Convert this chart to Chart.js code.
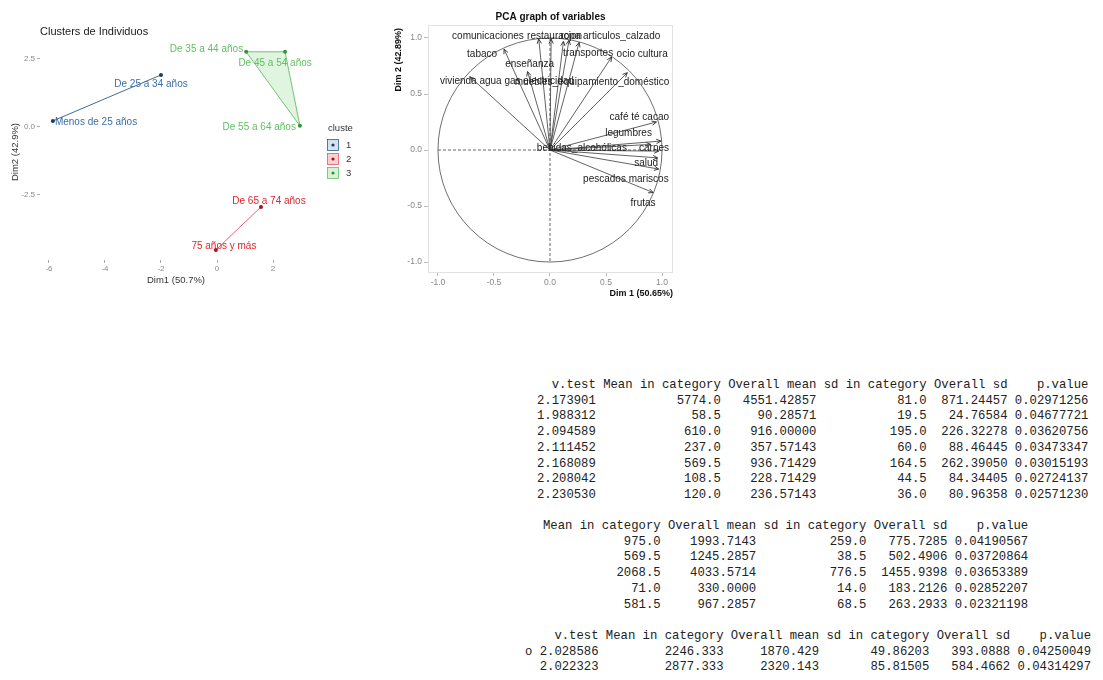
<!DOCTYPE html>
<html><head><meta charset="utf-8">
<script src="https://cdn.jsdelivr.net/npm/chart.js@4.4.1/dist/chart.umd.min.js"></script>
<style>
html,body{margin:0;padding:0;background:#fff;width:1103px;height:680px;overflow:hidden;}
#c1{position:absolute;left:0;top:0;}
#c2{position:absolute;left:380px;top:0;}
pre{position:absolute;margin:0;font-family:"Liberation Mono","DejaVu Sans Mono",monospace;font-size:12.25px;line-height:15.7px;color:#222;}
</style></head><body>
<canvas id="c1" width="370" height="300"></canvas>
<canvas id="c2" width="330" height="300"></canvas>
<pre id="t1" style="left:537px;top:378px"></pre>
<pre id="t2" style="left:543px;top:519px"></pre>
<pre id="t3" style="left:525px;top:629px"></pre>
<script>
// ---------- DATA: clusters of individuals ----------
const individuals = ["Menos de 25 años","De 25 a 34 años","De 35 a 44 años","De 45 a 54 años","De 55 a 64 años","De 65 a 74 años","75 años y más"];
const indDim1 = [-5.86, -2.00, 1.04, 2.43, 2.96, 1.57, -0.04];
const indDim2 = [0.22, 1.91, 2.76, 2.76, 0.04, -2.94, -4.52];
const indCluster = [1, 1, 3, 3, 3, 2, 2];
const clusterIds = [1, 2, 3];
const clusterXTicks = [-6, -4, -2, 0, 2];
const clusterYTicks = [-2.5, 0, 2.5];

// ---------- DATA: PCA variables ----------
const variables = ["comunicaciones","restauracion","ropa","articulos_calzado","transportes","ocio cultura","muebles_equipamiento_doméstico","tabaco","enseñanza","vivienda agua gas electricidad","café té cacao","legumbres","bebidas_alcohólicas","carnes","salud","pescados mariscos","frutas"];
const varDim1 = [-0.10, 0.01, 0.12, 0.17, 0.26, 0.55, 0.69, -0.41, -0.20, -0.71, 0.95, 0.99, 0.90, 0.97, 0.96, 0.97, 0.92];
const varDim2 = [0.99, 0.99, 0.97, 0.98, 0.96, 0.83, 0.69, 0.90, 0.70, 0.65, 0.25, 0.08, 0.05, -0.01, -0.07, -0.17, -0.38];
const pcaTicks = [-1, -0.5, 0, 0.5, 1];

// ---------- DATA: tables ----------
const t1VTest = ["2.173901","1.988312","2.094589","2.111452","2.168089","2.208042","2.230530"];
const t1Mean = ["5774.0","58.5","610.0","237.0","569.5","108.5","120.0"];
const t1Overall = ["4551.42857","90.28571","916.00000","357.57143","936.71429","228.71429","236.57143"];
const t1Sd = ["81.0","19.5","195.0","60.0","164.5","44.5","36.0"];
const t1OverallSd = ["871.24457","24.76584","226.32278","88.46445","262.39050","84.34405","80.96358"];
const t1P = ["0.02971256","0.04677721","0.03620756","0.03473347","0.03015193","0.02724137","0.02571230"];

const t2Mean = ["975.0","569.5","2068.5","71.0","581.5"];
const t2Overall = ["1993.7143","1245.2857","4033.5714","330.0000","967.2857"];
const t2Sd = ["259.0","38.5","776.5","14.0","68.5"];
const t2OverallSd = ["775.7285","502.4906","1455.9398","183.2126","263.2933"];
const t2P = ["0.04190567","0.03720864","0.03653389","0.02852207","0.02321198"];

const t3Row = ["o"," "];
const t3VTest = ["2.028586","2.022323"];
const t3Mean = ["2246.333","2877.333"];
const t3Overall = ["1870.429","2320.143"];
const t3Sd = ["49.86203","85.81505"];
const t3OverallSd = ["393.0888","584.4662"];
const t3P = ["0.04250049","0.04314297"];

const colHeads = ["v.test","Mean in category","Overall mean","sd in category","Overall sd","p.value"];

// ---------- STYLES ----------
const FONT = '"Liberation Sans", Arial, sans-serif';
const clusterStyle = {
  1: {text:'#3b6ea8', line:'#2f5a8a', point:'#1d3a66', fill:'rgba(120,160,220,0.25)', key:'rgba(120,160,220,0.3)'},
  2: {text:'#e2252d', line:'#e05668', point:'#a8101f', fill:'rgba(240,120,120,0.25)', key:'rgba(240,120,120,0.35)'},
  3: {text:'#62bf62', line:'#66bb66', point:'#3a8f3a', fill:'rgba(140,220,140,0.28)', key:'rgba(140,220,140,0.35)'}
};
// label offsets in px relative to point: [dx, dy, align]
const indLabelLayout = [[2,1,'left'],[-10,9,'center'],[-3,-3,'right'],[-10,11,'center'],[-4,1,'right'],[8,-6,'center'],[8,-4,'center']];
const varLabelLayout = [[-15,-3,'right'],[-24,-3,'left'],[-3,-5,'left'],[14,-4,'left'],[-16,10.5,'left'],[5,-3,'left'],[42,10,'right'],[-7,5,'right'],[2,-7,'center'],[-30.5,4,'left'],[12.6,-5,'right'],[-9,-8,'right'],[-114,3.6,'left'],[10.4,-3,'right'],[0.5,5,'right'],[10,10,'right'],[-10,11,'center']];

// ---------- tables ----------
const pad = (s, w) => ' '.repeat(Math.max(0, w - String(s).length)) + s;
const W = [8,16,12,14,10,10];
(function(){
  let L = [colHeads.map((h,i)=>pad(h,W[i])).join(' ')];
  t1VTest.forEach((v,i)=>L.push([v,t1Mean[i],t1Overall[i],t1Sd[i],t1OverallSd[i],t1P[i]].map((s,j)=>pad(s,W[j])).join(' ')));
  document.getElementById('t1').textContent = L.join('\n');
  L = [colHeads.slice(1).map((h,i)=>pad(h,W[i+1])).join(' ')];
  t2Mean.forEach((v,i)=>L.push([v,t2Overall[i],t2Sd[i],t2OverallSd[i],t2P[i]].map((s,j)=>pad(s,W[j+1])).join(' ')));
  document.getElementById('t2').textContent = L.join('\n');
  L = [' ' + ' ' + colHeads.map((h,i)=>pad(h,W[i])).join(' ')];
  t3VTest.forEach((v,i)=>L.push(t3Row[i] + ' ' + [v,t3Mean[i],t3Overall[i],t3Sd[i],t3OverallSd[i],t3P[i]].map((s,j)=>pad(s,W[j])).join(' ')));
  document.getElementById('t3').textContent = L.join('\n');
})();

// ---------- convex hull ----------
function hull(pts){
  const p = pts.slice().sort((a,b)=>a.x-b.x||a.y-b.y);
  if (p.length < 3) return p;
  const cr=(o,a,b)=>(a.x-o.x)*(b.y-o.y)-(a.y-o.y)*(b.x-o.x);
  const lo=[], up=[];
  for (const q of p){ while(lo.length>=2 && cr(lo[lo.length-2],lo[lo.length-1],q)<=0) lo.pop(); lo.push(q); }
  for (const q of p.slice().reverse()){ while(up.length>=2 && cr(up[up.length-2],up[up.length-1],q)<=0) up.pop(); up.push(q); }
  up.pop(); lo.pop(); return lo.concat(up);
}
const clusterPts = clusterIds.map(c => individuals.map((n,i)=>({x:indDim1[i], y:indDim2[i], c:indCluster[i]})).filter(p=>p.c===c));
const clusterHulls = clusterPts.map(hull);

// ---------- chart 1: clusters ----------
const ds1 = [];
clusterIds.forEach((c,ci)=>{
  ds1.push({type:'scatter', data:clusterPts[ci].map(p=>({x:p.x,y:p.y})), pointRadius:2, pointBackgroundColor:clusterStyle[c].point, pointBorderWidth:0, showLine:false, clip:false, order:1});
  const h = clusterHulls[ci];
  const closed = h.length>2 ? h.concat([h[0]]) : h;
  ds1.push({type:'scatter', data:closed.map(p=>({x:p.x,y:p.y})), showLine:true, pointRadius:0, borderColor:clusterStyle[c].line, borderWidth:0.9, tension:0, clip:false, order:2});
});

const clusterDeco = {
  id:'clusterDeco',
  beforeDatasetsDraw(chart){
    const {ctx, scales:{x,y}} = chart;
    clusterIds.forEach((c,ci)=>{
      const h = clusterHulls[ci];
      if (h.length < 3) return;
      ctx.save(); ctx.beginPath();
      h.forEach((p,i)=>{ const px=x.getPixelForValue(p.x), py=y.getPixelForValue(p.y); i?ctx.lineTo(px,py):ctx.moveTo(px,py); });
      ctx.closePath(); ctx.fillStyle = clusterStyle[c].fill; ctx.fill(); ctx.restore();
    });
  },
  afterDatasetsDraw(chart){
    const {ctx, scales:{x,y}} = chart;
    ctx.save();
    ctx.font = '10px ' + FONT; ctx.textBaseline = 'middle';
    individuals.forEach((n,i)=>{
      const [dx,dy,al] = indLabelLayout[i];
      ctx.fillStyle = clusterStyle[indCluster[i]].text; ctx.textAlign = al;
      ctx.fillText(n, x.getPixelForValue(indDim1[i]) + dx, y.getPixelForValue(indDim2[i]) + dy);
    });
    // title
    ctx.fillStyle = '#1a1a1a'; ctx.textAlign='left'; ctx.font = '11px ' + FONT;
    ctx.fillText('Clusters de Individuos', 40, 32);
    // axis titles
    ctx.fillStyle = '#333'; ctx.font = '9.5px ' + FONT; ctx.textAlign='center';
    ctx.fillText('Dim1 (50.7%)', 176, 280);
    ctx.save(); ctx.translate(15, 152); ctx.rotate(-Math.PI/2); ctx.fillText('Dim2 (42.9%)', 0, 0); ctx.restore();
    // legend
    ctx.textAlign='left'; ctx.fillStyle='#333'; ctx.font='9.5px ' + FONT;
    ctx.fillText('cluste', 328, 128);
    clusterIds.forEach((c,k)=>{
      const top = 139 + k*14;
      ctx.fillStyle = clusterStyle[c].key; ctx.fillRect(327.5, top+0.5, 11, 11);
      ctx.strokeStyle = clusterStyle[c].line; ctx.lineWidth = 0.8; ctx.strokeRect(327.5, top+0.5, 11, 11);
      ctx.fillStyle = clusterStyle[c].point; ctx.beginPath(); ctx.arc(333, top+6, 1.6, 0, Math.PI*2); ctx.fill();
      ctx.fillStyle = '#333'; ctx.fillText(String(c), 346, top+6);
    });
    ctx.restore();
  }
};

new Chart(document.getElementById('c1'), {
  type:'scatter',
  data:{datasets:ds1},
  options:{
    responsive:false, animation:false, devicePixelRatio:1,
    layout:{padding:{left:0, right:60, top:45, bottom:0}},
    plugins:{legend:{display:false}, tooltip:{enabled:false}},
    scales:{
      x:{type:'linear', min:-6.32, max:3.32,
         afterBuildTicks:s=>{ s.ticks = clusterXTicks.map(v=>({value:v})); },
         afterFit:s=>{ s.height = 40; },
         ticks:{callback:v=>String(v), color:'#888', font:{size:8, family:FONT}, padding:1, maxRotation:0},
         grid:{display:true, drawOnChartArea:false, drawTicks:true, tickLength:3, color:'#aaa', tickColor:'#aaa'},
         border:{display:false}},
      y:{type:'linear', min:-4.89, max:3.01,
         afterBuildTicks:s=>{ s.ticks = clusterYTicks.map(v=>({value:v})); },
         afterFit:s=>{ s.width = 40; },
         ticks:{callback:v=>v.toFixed(1), color:'#888', font:{size:8, family:FONT}, padding:2},
         grid:{display:true, drawOnChartArea:false, drawTicks:true, tickLength:3, color:'#aaa', tickColor:'#aaa'},
         border:{display:false}}
    }
  },
  plugins:[clusterDeco]
});

// ---------- chart 2: PCA variables ----------
const ds2 = variables.map((v,i)=>({
  type:'scatter', data:[{x:0,y:0},{x:varDim1[i], y:varDim2[i]}], showLine:true, pointRadius:0,
  borderColor:'#3a3a3a', borderWidth:0.8, clip:false
}));

const pcaDeco = {
  id:'pcaDeco',
  beforeDatasetsDraw(chart){
    const {ctx, chartArea:a, scales:{x,y}} = chart;
    ctx.save();
    ctx.strokeStyle='#e2e2e2'; ctx.lineWidth=1;
    ctx.strokeRect(a.left+0.5, a.top+0.5, a.right-a.left-1, a.bottom-a.top-1);
    ctx.setLineDash([3,2]); ctx.strokeStyle='#555'; ctx.lineWidth=0.9;
    ctx.beginPath();
    ctx.moveTo(x.getPixelForValue(-1), y.getPixelForValue(0)); ctx.lineTo(x.getPixelForValue(1), y.getPixelForValue(0));
    ctx.moveTo(x.getPixelForValue(0), y.getPixelForValue(1)); ctx.lineTo(x.getPixelForValue(0), y.getPixelForValue(-1));
    ctx.stroke(); ctx.setLineDash([]);
    const cx=x.getPixelForValue(0), cy=y.getPixelForValue(0);
    const rx=x.getPixelForValue(1)-cx, ry=cy-y.getPixelForValue(1);
    ctx.beginPath(); ctx.ellipse(cx, cy, rx, ry, 0, 0, Math.PI*2);
    ctx.strokeStyle='#4a4a4a'; ctx.lineWidth=0.8; ctx.stroke();
    ctx.restore();
  },
  afterDatasetsDraw(chart){
    const {ctx, chartArea:a} = chart;
    ctx.save();
    variables.forEach((v,i)=>{
      const meta = chart.getDatasetMeta(i);
      const p0 = meta.data[0], p1 = meta.data[1];
      const ang = Math.atan2(p1.y-p0.y, p1.x-p0.x);
      const L = 5, spread = 0.45;
      ctx.strokeStyle = '#2a2a2a'; ctx.lineWidth = 0.9;
      ctx.beginPath();
      ctx.moveTo(p1.x - L*Math.cos(ang-spread), p1.y - L*Math.sin(ang-spread));
      ctx.lineTo(p1.x, p1.y);
      ctx.lineTo(p1.x - L*Math.cos(ang+spread), p1.y - L*Math.sin(ang+spread));
      ctx.stroke();
      const [dx,dy,al] = varLabelLayout[i];
      ctx.fillStyle = '#222'; ctx.font = '10px ' + FONT; ctx.textAlign = al; ctx.textBaseline='middle';
      ctx.fillText(v, p1.x + dx, p1.y + dy);
    });
    ctx.fillStyle = '#111'; ctx.textAlign='center'; ctx.textBaseline='middle';
    ctx.font = 'bold 10px ' + FONT;
    ctx.fillText('PCA graph of variables', (a.left+a.right)/2, 17);
    ctx.font = 'bold 9px ' + FONT; ctx.textAlign='right';
    ctx.fillText('Dim 1 (50.65%)', a.right, 294);
    ctx.save(); ctx.translate(19, a.top+3); ctx.rotate(-Math.PI/2); ctx.textAlign='right';
    ctx.fillText('Dim 2 (42.89%)', 0, 0); ctx.restore();
    ctx.restore();
  }
};

new Chart(document.getElementById('c2'), {
  type:'scatter',
  data:{datasets:ds2},
  options:{
    responsive:false, animation:false, devicePixelRatio:1,
    layout:{padding:{left:0, right:37, top:25, bottom:0}},
    plugins:{legend:{display:false}, tooltip:{enabled:false}},
    scales:{
      x:{type:'linear', min:-1.089, max:1.098,
         afterBuildTicks:s=>{ s.ticks = pcaTicks.map(v=>({value:v})); },
         afterFit:s=>{ s.height = 27; },
         ticks:{callback:v=>v.toFixed(1), color:'#888', font:{size:8.5, family:FONT}, padding:2, maxRotation:0},
         grid:{display:true, drawOnChartArea:false, drawTicks:true, tickLength:3, color:'#bbb', tickColor:'#bbb'},
         border:{display:false}},
      y:{type:'linear', min:-1.098, max:1.116,
         afterBuildTicks:s=>{ s.ticks = pcaTicks.map(v=>({value:v})); },
         afterFit:s=>{ s.width = 48; },
         ticks:{callback:v=>v.toFixed(1), color:'#888', font:{size:8.5, family:FONT}, padding:2},
         grid:{display:true, drawOnChartArea:false, drawTicks:true, tickLength:4, color:'#bbb', tickColor:'#bbb'},
         border:{display:false}}
    }
  },
  plugins:[pcaDeco]
});
</script>
</body></html>
